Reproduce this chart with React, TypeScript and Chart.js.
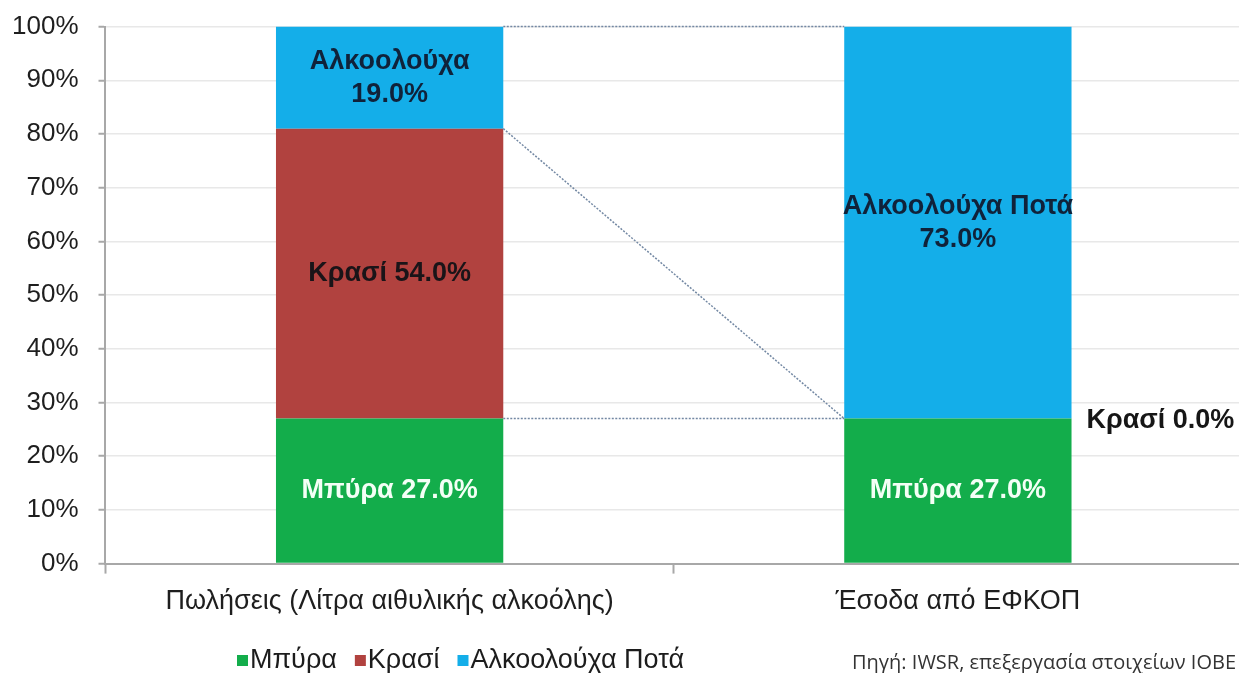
import React, { useEffect, useRef } from "react";
import { Chart, registerables } from "chart.js";

Chart.register(...registerables);

const categories = ["Πωλήσεις (Λίτρα αιθυλικής αλκοόλης)", "Έσοδα από ΕΦΚΟΠ"];
const seriesNames = ["Μπύρα", "Κρασί", "Αλκοολούχα Ποτά"];
const beerValues = [27, 27];
const wineValues = [54, 0];
const spiritsValues = [19, 73];
const seriesColors = ["#13ad4b", "#b1423f", "#14aee9"];
const labelColors = ["#f4fff6", "#1a1418", "#10223a"];
const beerLabels = [["Μπύρα 27.0%"], ["Μπύρα 27.0%"]];
const wineLabels = [["Κρασί 54.0%"], ["Κρασί 0.0%"]];
const spiritsLabels = [["Αλκοολούχα", "19.0%"], ["Αλκοολούχα Ποτά", "73.0%"]];
const yMin = 0;
const yMax = 100;
const yStep = 10;
const sourceText = "Πηγή: IWSR, επεξεργασία στοιχείων ΙΟΒΕ";

const allLabels = [beerLabels, wineLabels, spiritsLabels];
const SHIFT = 20;
const SHIFT_Y = 9;

const barLabelPlugin = {
  id: "barLabels",
  afterDatasetsDraw(chart: any) {
    const ctx = chart.ctx;
    ctx.save();
    ctx.font = "bold 27px 'Liberation Sans', Arial, sans-serif";
    ctx.textBaseline = "middle";
    chart.data.datasets.forEach((ds: any, di: number) => {
      const meta = chart.getDatasetMeta(di);
      meta.data.forEach((el: any, i: number) => {
        const lines = allLabels[di][i];
        const v = ds.data[i];
        const p = el.getProps(["x", "y", "base", "width"], true);
        if (v === 0) {
          ctx.fillStyle = "#161616";
          ctx.textAlign = "left";
          ctx.fillText(lines[0], p.x + p.width / 2 + 15, p.y + 2);
          return;
        }
        ctx.fillStyle = labelColors[di];
        ctx.textAlign = "center";
        const cy = (p.y + p.base) / 2;
        const lh = 33;
        const start = cy - ((lines.length - 1) * lh) / 2;
        lines.forEach((t: string, k: number) => {
          ctx.fillText(t, p.x, start + k * lh);
        });
      });
    });
    ctx.restore();
  },
};

const connectorPlugin = {
  id: "connectors",
  afterDatasetsDraw(chart: any) {
    const ctx = chart.ctx;
    ctx.save();
    ctx.strokeStyle = "#7388a3";
    ctx.lineWidth = 1.5;
    ctx.setLineDash([2, 1.5]);
    chart.data.datasets.forEach((_ds: any, di: number) => {
      const meta = chart.getDatasetMeta(di);
      const a = meta.data[0].getProps(["x", "y", "width"], true);
      const b = meta.data[1].getProps(["x", "y", "width"], true);
      ctx.beginPath();
      ctx.moveTo(a.x + a.width / 2, a.y);
      ctx.lineTo(b.x - b.width / 2, b.y);
      ctx.stroke();
    });
    ctx.restore();
  },
};

const legendPlugin = {
  id: "customLegend",
  afterDraw(chart: any) {
    const ctx = chart.ctx;
    ctx.save();
    ctx.font = "27px 'Liberation Sans', Arial, sans-serif";
    ctx.textBaseline = "middle";
    ctx.textAlign = "left";
    let x = 237 + SHIFT;
    const cy = 661 + SHIFT_Y;
    seriesNames.forEach((name, i) => {
      ctx.fillStyle = seriesColors[i];
      ctx.fillRect(x, cy - 6, 11, 11);
      x += 13;
      ctx.fillStyle = "#1c1c1c";
      ctx.fillText(name, x, cy);
      x += ctx.measureText(name).width + 18;
    });
    ctx.font = "20px 'Open Sans', 'Noto Sans', sans-serif";
    ctx.textAlign = "right";
    ctx.fillStyle = "#333";
    ctx.fillText(sourceText, 1236 + SHIFT, 663 + SHIFT_Y);
    ctx.restore();
  },
};

export default function App() {
  const ref = useRef<HTMLCanvasElement | null>(null);
  useEffect(() => {
    document.body.style.margin = "0";
    const canvas = ref.current;
    if (!canvas) return;
    const chart = new Chart(canvas, {
      type: "bar",
      data: {
        labels: categories,
        datasets: [
          { label: seriesNames[0], data: beerValues, backgroundColor: seriesColors[0] },
          { label: seriesNames[1], data: wineValues, backgroundColor: seriesColors[1] },
          { label: seriesNames[2], data: spiritsValues, backgroundColor: seriesColors[2] },
        ],
      },
      options: {
        animation: false,
        responsive: false,
        devicePixelRatio: 1,
        layout: { padding: { top: 9, left: 12, right: 1, bottom: 43 } },
        datasets: { bar: { barPercentage: 1, categoryPercentage: 0.4 } },
        plugins: {
          legend: { display: false },
          tooltip: { enabled: false },
        },
        scales: {
          x: {
            stacked: true,
            offset: true,
            grid: {
              offset: true,
              drawOnChartArea: false,
              tickLength: 10,
              tickColor: "#a8a8a8",
              tickWidth: 2,
            },
            border: { color: "#a8a8a8", width: 2 },
            ticks: {
              color: "#1e1e1e",
              padding: 12,
              font: { family: "'Liberation Sans', Arial, sans-serif", size: 27 },
            },
          },
          y: {
            stacked: true,
            min: yMin,
            max: yMax,
            grid: {
              color: "#e8e8e8",
              lineWidth: 1.5,
              tickLength: 7,
              tickColor: "#a8a8a8",
              tickWidth: 2,
            },
            border: { color: "#a8a8a8", width: 2 },
            ticks: {
              stepSize: yStep,
              color: "#1e1e1e",
              padding: 20,
              font: { family: "'Liberation Sans', Arial, sans-serif", size: 26 },
              callback: (v: any) => v + "%",
            },
          },
        },
      },
      plugins: [connectorPlugin, barLabelPlugin, legendPlugin],
    });
    return () => chart.destroy();
  }, []);
  return (
    <div
      style={{
        position: "absolute",
        left: 0,
        top: 0,
        width: 1239,
        height: 673,
        overflow: "hidden",
        background: "#fff",
      }}
    >
      <canvas
        ref={ref}
        width={1243 + SHIFT}
        height={673 + SHIFT_Y}
        style={{ display: "block", marginLeft: -SHIFT, marginTop: -SHIFT_Y }}
      />
    </div>
  );
}
